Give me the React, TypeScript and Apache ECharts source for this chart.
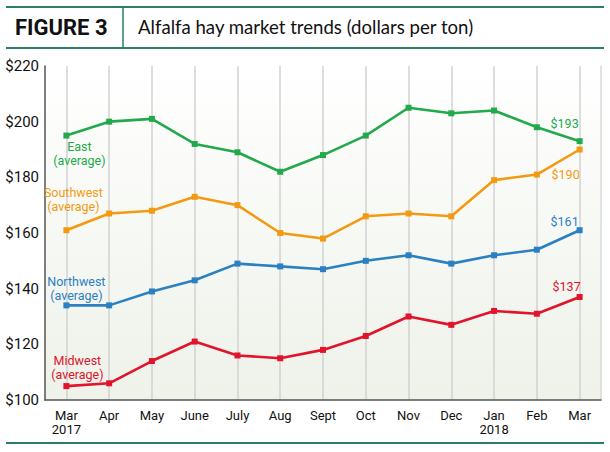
import React, { useEffect, useRef } from "react";
import * as echarts from "echarts";

// Monthly alfalfa hay prices, dollars per ton
const months = ["Mar\n2017", "Apr", "May", "June", "July", "Aug", "Sept", "Oct", "Nov", "Dec", "Jan\n2018", "Feb", "Mar"];
const east = [195, 200, 201, 192, 189, 182, 188, 195, 205, 203, 204, 198, 193];
const southwest = [161, 167, 168, 173, 170, 160, 158, 166, 167, 166, 179, 181, 190];
const northwest = [134, 134, 139, 143, 149, 148, 147, 150, 152, 149, 152, 154, 161];
const midwest = [105, 106, 114, 121, 116, 115, 118, 123, 130, 127, 132, 131, 137];
const yTicks = [100, 120, 140, 160, 180, 200, 220];

const FONT = "Roboto, 'Liberation Sans', Arial, sans-serif";
const TEAL = "#2b7c69";

type SeriesDef = {
  name: string;
  values: number[];
  color: string;
  nameOffset: [number, number];
  endOffset: [number, number];
};

const seriesDefs: SeriesDef[] = [
  { name: "East", values: east, color: "#21a94b", nameOffset: [13, 18], endOffset: [-15, -18] },
  { name: "Southwest", values: southwest, color: "#f39a12", nameOffset: [7, -31], endOffset: [-14, 25] },
  { name: "Northwest", values: northwest, color: "#2a80c1", nameOffset: [10, -17], endOffset: [-15, -9] },
  { name: "Midwest", values: midwest, color: "#e1142c", nameOffset: [11, -19], endOffset: [-13, -11] },
];

export default function App() {
  const ref = useRef<HTMLDivElement>(null);

  useEffect(() => {
    if (!ref.current) return;
    const chart = echarts.init(ref.current, undefined, { renderer: "svg" });

    const series = seriesDefs.map((s) => ({
      name: s.name,
      type: "line",
      data: s.values.map((v, i) => {
        if (i === 0) {
          return {
            value: v,
            label: {
              show: true,
              position: "inside",
              offset: s.nameOffset,
              formatter: (p: any) => `${p.seriesName}\n(average)`,
              color: s.color,
              fontFamily: FONT,
              fontSize: 12.5,
              lineHeight: 14,
              align: "center",
              verticalAlign: "middle",
            },
          };
        }
        if (i === s.values.length - 1) {
          return {
            value: v,
            label: {
              show: true,
              position: "inside",
              offset: s.endOffset,
              formatter: (p: any) => `$${p.value}`,
              color: s.color,
              fontFamily: FONT,
              fontSize: 12.5,
              align: "center",
              verticalAlign: "middle",
            },
          };
        }
        return v;
      }),
      symbol: "rect",
      symbolSize: 6,
      lineStyle: { color: s.color, width: 2.6 },
      itemStyle: { color: s.color },
      z: 3,
    }));

    chart.setOption({
      animation: false,
      backgroundColor: "#ffffff",
      grid: {
        left: 45,
        right: 9,
        top: 66,
        bottom: 52,
        show: true,
        borderWidth: 0,
        backgroundColor: {
          type: "linear",
          x: 0,
          y: 0,
          x2: 0,
          y2: 1,
          colorStops: [
            { offset: 0, color: "#ffffff" },
            { offset: 1, color: "#eef2e9" },
          ],
        },
      },
      xAxis: {
        type: "category",
        data: months,
        boundaryGap: true,
        axisLine: { show: true, lineStyle: { color: "#555555", width: 1.5 } },
        axisTick: { show: false },
        axisLabel: {
          color: "#111111",
          fontFamily: FONT,
          fontSize: 13,
          lineHeight: 14,
          margin: 8,
          interval: 0,
        },
        splitLine: {
          show: true,
          alignWithLabel: true,
          lineStyle: { color: "#d2d2d2", width: 1.5 },
        },
      },
      yAxis: [
        {
          type: "value",
          min: 100,
          max: 220,
          interval: 20,
          axisLine: { show: true, lineStyle: { color: "#555555", width: 1.5 } },
          axisTick: { show: false },
          splitLine: { show: false },
          axisLabel: {
            color: "#111111",
            fontFamily: FONT,
            fontSize: 15,
            margin: 6,
            formatter: (v: number) => (yTicks.includes(v) ? `$${v}` : ""),
          },
        },
        {
          type: "value",
          position: "right",
          min: 100,
          max: 220,
          interval: 20,
          axisLine: { show: true, lineStyle: { color: "#d8d8d8", width: 1.5 } },
          axisTick: { show: false },
          axisLabel: { show: false },
          splitLine: { show: false },
        },
      ],
      series,
      graphic: [
        { type: "line", shape: { x1: 6, y1: 7, x2: 604, y2: 7 }, style: { stroke: TEAL, lineWidth: 2 } },
        { type: "line", shape: { x1: 6, y1: 48, x2: 604, y2: 48 }, style: { stroke: TEAL, lineWidth: 2 } },
        { type: "line", shape: { x1: 123, y1: 8, x2: 123, y2: 47 }, style: { stroke: TEAL, lineWidth: 1.5 } },
        { type: "line", shape: { x1: 6, y1: 443, x2: 604, y2: 443 }, style: { stroke: TEAL, lineWidth: 2 } },
        {
          type: "text",
          left: 15,
          top: 16,
          style: {
            text: "FIGURE 3",
            fill: "#111111",
            font: "bold 22px Roboto, 'Noto Sans', sans-serif",
          },
        },
        {
          type: "text",
          left: 138,
          top: 17,
          style: {
            text: "Alfalfa hay market trends (dollars per ton)",
            fill: "#111111",
            font: "18.6px Lato, 'Noto Sans', sans-serif",
          },
        },
      ],
    });

    return () => chart.dispose();
  }, []);

  return (
    <div
      ref={ref}
      style={{ position: "fixed", left: 0, top: 0, width: 610, height: 452 }}
    />
  );
}
